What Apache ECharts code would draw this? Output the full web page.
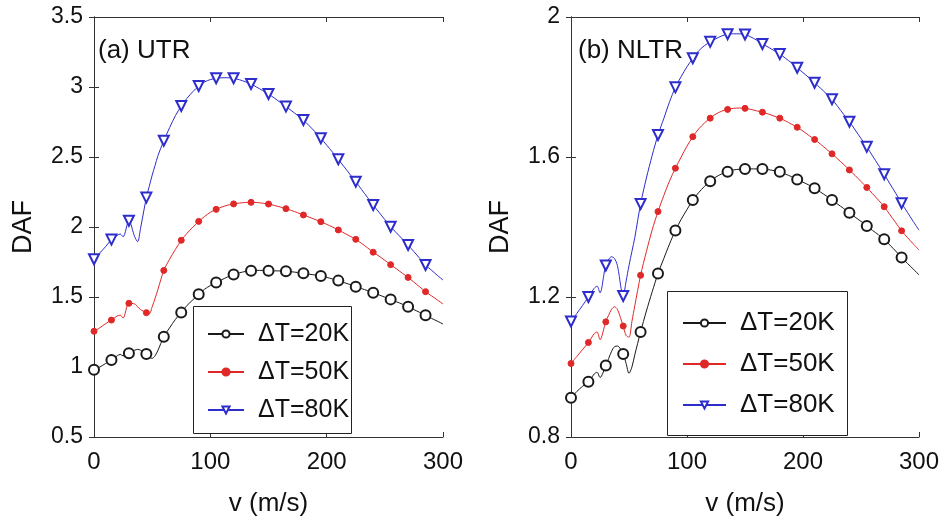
<!DOCTYPE html>
<html><head><meta charset="utf-8">
<script src="https://cdn.jsdelivr.net/npm/echarts@6/dist/echarts.min.js"></script>
<style>html,body{margin:0;padding:0;background:#fff}#c{width:946px;height:524px}</style>
</head><body><div id="c"></div>
<script>
// speed v (m/s) sample points
const V = [0,5,10,15,20,22.5,25,30,35,37.5,40,45,47.5,50,52.5,55,
  60,65,70,75,80,85,90,95,100,105,110,115,120,125,130,135,140,145,150,155,160,165,170,175,
  180,185,190,195,200,205,210,215,220,225,230,235,240,245,250,255,260,265,270,275,280,285,290,295,300];
const seriesNames = ['\u0394T=20K','\u0394T=50K','\u0394T=80K'];
// (a) UTR
const utr20 = [0.98,1.00,1.025,1.05,1.08,1.09,1.08,1.098,1.12,1.126,1.12,1.093,1.07,1.062,1.08,1.12,
  1.216,1.28,1.34,1.39,1.44,1.48,1.52,1.555,1.582,1.603,1.624,1.644,1.66,1.673,1.682,1.688,1.69,1.69,1.688,1.687,1.686,1.684,1.68,1.675,
  1.669,1.663,1.657,1.65,1.64,1.629,1.617,1.603,1.589,1.574,1.56,1.546,1.531,1.515,1.499,1.483,1.466,1.449,1.431,1.41,1.39,1.369,1.348,1.328,1.307];
const utr50 = [1.255,1.28,1.31,1.335,1.365,1.37,1.35,1.455,1.45,1.43,1.41,1.388,1.38,1.43,1.49,1.555,
  1.69,1.77,1.84,1.905,1.955,2.0,2.04,2.075,2.105,2.126,2.143,2.156,2.165,2.171,2.175,2.176,2.175,2.17,2.164,2.154,2.143,2.131,2.117,2.102,
  2.086,2.07,2.054,2.038,2.019,2.0,1.979,1.957,1.935,1.912,1.883,1.852,1.82,1.792,1.762,1.731,1.701,1.67,1.64,1.606,1.572,1.538,1.509,1.48,1.45];
const utr80 = [1.77,1.815,1.86,1.91,1.94,1.95,1.93,2.045,1.93,1.895,1.99,2.21,2.29,2.37,2.44,2.51,
  2.616,2.71,2.795,2.864,2.92,2.967,3.007,3.036,3.053,3.062,3.066,3.066,3.062,3.052,3.038,3.021,2.998,2.975,2.95,2.921,2.891,2.86,2.829,2.797,
  2.764,2.723,2.68,2.634,2.585,2.535,2.484,2.43,2.377,2.324,2.268,2.212,2.157,2.105,2.053,2.002,1.958,1.915,1.871,1.824,1.776,1.729,1.692,1.656,1.621];
// (b) NLTR
const nltr20 = [0.912,0.93,0.945,0.958,0.98,0.985,0.97,1.004,1.045,1.058,1.06,1.037,1.01,0.982,1.0,1.035,
  1.1,1.16,1.215,1.267,1.31,1.352,1.39,1.422,1.45,1.477,1.498,1.516,1.531,1.543,1.552,1.558,1.563,1.565,1.566,1.566,1.566,1.566,1.564,1.561,
  1.558,1.551,1.544,1.536,1.528,1.52,1.511,1.5,1.489,1.477,1.465,1.453,1.441,1.428,1.416,1.403,1.39,1.378,1.365,1.348,1.331,1.313,1.296,1.28,1.263];
const nltr50 = [1.01,1.03,1.05,1.07,1.095,1.1,1.078,1.129,1.165,1.172,1.165,1.117,1.09,1.085,1.13,1.175,
  1.262,1.33,1.392,1.444,1.49,1.532,1.568,1.6,1.631,1.658,1.68,1.697,1.711,1.723,1.731,1.736,1.739,1.74,1.739,1.736,1.732,1.728,1.723,1.717,
  1.711,1.703,1.694,1.685,1.674,1.662,1.65,1.637,1.623,1.609,1.594,1.579,1.563,1.547,1.53,1.513,1.495,1.477,1.458,1.435,1.412,1.389,1.37,1.352,1.334];
const nltr80 = [1.13,1.153,1.176,1.2,1.225,1.231,1.212,1.29,1.315,1.31,1.29,1.203,1.245,1.29,1.33,1.37,
  1.466,1.54,1.605,1.663,1.71,1.758,1.799,1.83,1.858,1.882,1.903,1.918,1.929,1.938,1.946,1.951,1.952,1.952,1.95,1.943,1.934,1.923,1.914,1.904,
  1.894,1.882,1.869,1.855,1.841,1.827,1.812,1.797,1.781,1.765,1.744,1.722,1.701,1.677,1.653,1.629,1.603,1.577,1.551,1.523,1.496,1.468,1.442,1.416,1.391];
const xTicks = {min:0, max:300, interval:100};
const yTicksA = {min:0.5, max:3.5, interval:0.5};
const yTicksB = {min:0.8, max:2.0, interval:0.4};

const FONT = '"Liberation Sans", Arial, Helvetica, sans-serif';
const AX = '#333';
const colors = ['#1a1a1a','#e02828','#2d2dcc'];
const symbols = ['emptyCircle','circle','emptyTriangle'];
const symSizes = [10,6,10];
const rot = [0,0,180];

function zip(arr){ return V.map((x,i)=>[x, arr[i]]); }

const grids = [
  {left:94, top:17, width:349, height:420},
  {left:571, top:17, width:348, height:420}
];
function xAx(gi, pos){
  const main = pos === 'bottom';
  return Object.assign({type:'value', gridIndex:gi, position:pos}, xTicks, {
    axisLine:{show:true, lineStyle:{color:AX, width:1}},
    axisTick:{show:true, inside:true, length:5, lineStyle:{color:AX}},
    axisLabel:{show:main, fontSize:24, color:'#111', fontFamily:FONT, margin:13},
    splitLine:{show:false},
    name: main ? 'v (m/s)' : '', nameLocation:'middle', nameGap:54,
    nameTextStyle:{fontSize:26, color:'#111', fontFamily:FONT}
  });
}
function yAx(gi, pos, t){
  const main = pos === 'left';
  return Object.assign({type:'value', gridIndex:gi, position:pos}, t, {
    axisLine:{show:true, lineStyle:{color:AX, width:1}},
    axisTick:{show:true, inside:true, length:5, lineStyle:{color:AX}},
    axisLabel:{show:main, fontSize:23, color:'#111', fontFamily:FONT, margin:11},
    splitLine:{show:false},
    name: main ? 'DAF' : '', nameLocation:'middle', nameGap:57, nameRotate:90,
    nameTextStyle:{fontSize:27, color:'#111', fontFamily:FONT}
  });
}

const panels = [[utr20,utr50,utr80],[nltr20,nltr50,nltr80]];
const series = [];
panels.forEach((arrs, p)=>{
  arrs.forEach((arr, k)=>{
    series.push({
      name: seriesNames[k], type:'line',
      xAxisIndex: p*2, yAxisIndex: p*2,
      data: zip(arr), smooth: 0.3,
      symbol: symbols[k], symbolRotate: rot[k],
      symbolSize: function(val){ return (val[0] % 15 === 0 && val[0] < 300) ? symSizes[k] : 0; },
      showSymbol:true, showAllSymbol:true,
      lineStyle:{color:colors[k], width:1},
      itemStyle:{color:colors[k], borderColor:colors[k], borderWidth:1},
      emphasis:{disabled:true}, z: 3 + k
    });
  });
});

function legend(left, top, gap, itemW, fs){
  return {
    orient:'vertical', left:left, top:top, itemGap:gap, itemWidth:itemW, itemHeight:9,
    padding:0, data: seriesNames, selectedMode:false, z:10,
    textStyle:{fontSize:fs, color:'#111', fontFamily:FONT, lineHeight:30, padding:[0,0,0,9]}
  };
}

const chart = echarts.init(document.getElementById('c'), null, {renderer:'canvas'});
chart.setOption({
  animation:false,
  backgroundColor:'#fff',
  grid: grids,
  xAxis:[xAx(0,'bottom'), xAx(0,'top'), xAx(1,'bottom'), xAx(1,'top')],
  yAxis:[yAx(0,'left',yTicksA), yAx(0,'right',yTicksA), yAx(1,'left',yTicksB), yAx(1,'right',yTicksB)],
  legend:[legend(207, 319, 8, 36, 25), legend(682, 308, 11, 43, 26)],
  graphic:[
    {type:'rect', left:193, top:306, shape:{width:158, height:127}, style:{fill:'#fff', stroke:'#222', lineWidth:1}, z:5},
    {type:'rect', left:667, top:291, shape:{width:180, height:144}, style:{fill:'#fff', stroke:'#222', lineWidth:1}, z:5},
    {type:'text', left:98, top:38, style:{text:'(a) UTR', font:'26px '+FONT, fill:'#111'}, z:6},
    {type:'text', left:578, top:38, style:{text:'(b) NLTR', font:'26px '+FONT, fill:'#111'}, z:6}
  ],
  series: series
});
</script></body></html>
